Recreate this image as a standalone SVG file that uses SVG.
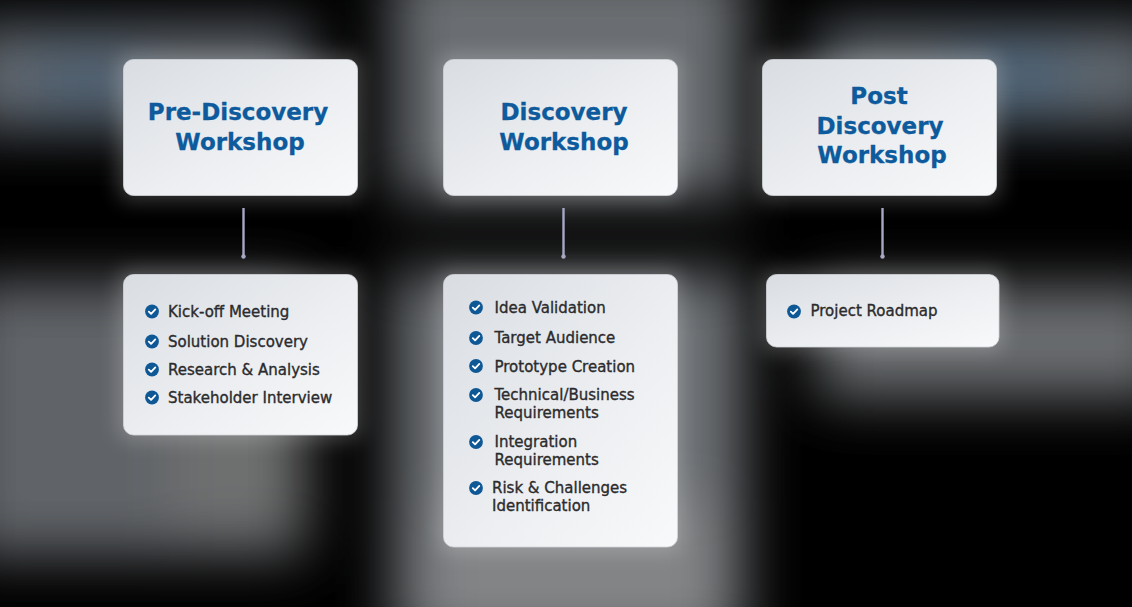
<svg xmlns="http://www.w3.org/2000/svg" width="1132" height="607" viewBox="0 0 1132 607">
  <defs>
    <filter id="blur" x="-30%" y="-30%" width="160%" height="160%">
      <feGaussianBlur stdDeviation="28"/>
    </filter>
    <filter id="glow" x="-20%" y="-20%" width="140%" height="140%">
      <feGaussianBlur stdDeviation="10"/>
    </filter>
    <linearGradient id="card" x1="0" y1="0" x2="1" y2="1">
      <stop offset="0" stop-color="#d9dde2"/>
      <stop offset="0.55" stop-color="#eceef1"/>
      <stop offset="1" stop-color="#f8f9fa"/>
    </linearGradient>
    <symbol id="check" viewBox="-7 -7 14 14" overflow="visible">
      <circle r="6.9" fill="#0f5896"/>
      <path d="M-3.2,0.1 L-0.9,2.4 L3.3,-2.1" fill="none" stroke="#ffffff" stroke-width="1.8" stroke-linecap="round" stroke-linejoin="round"/>
    </symbol>
  </defs>
  <style>
    .card { fill: url(#card); stroke: #d2d5d9; stroke-width: 0.8; }
    .title { font-family: "DejaVu Sans", "Liberation Sans", sans-serif; font-weight: bold; font-size: 23px; fill: #0d5a9c; text-anchor: middle; stroke: #0d5a9c; stroke-width: 0.3; }
    .item { font-family: "DejaVu Sans", "Liberation Sans", sans-serif; font-size: 15px; fill: #2b2b2d; stroke: #2b2b2d; stroke-width: 0.35; }
    .conn { stroke: #a7a8c4; stroke-width: 2.4; fill: none; }
    .dot { fill: #a7a8c4; }
  </style>

  <rect x="0" y="0" width="1132" height="607" fill="#000000"/>
  <g id="background" filter="url(#blur)">
    <rect x="-40" y="25" width="350" height="105" fill="#62686e"/>
    <rect x="30" y="55" width="110" height="55" fill="#4d6274"/>
    <rect x="-40" y="282" width="345" height="275" fill="#606468"/>
    <rect x="170" y="380" width="135" height="150" fill="#6e6f70"/>
    <rect x="393" y="-40" width="350" height="238" fill="#6a6e72"/>
    <rect x="393" y="272" width="350" height="380" fill="#6e7276"/>
    <rect x="430" y="500" width="290" height="140" fill="#838486"/>
    <rect x="817" y="25" width="355" height="100" fill="#60676e"/>
    <rect x="960" y="45" width="110" height="65" fill="#50667a"/>
    <rect x="817" y="286" width="355" height="112" fill="#6a6d70"/>
  </g>
  <g id="glows" filter="url(#glow)" opacity="0.22">
    <rect x="118" y="54" width="244" height="147" rx="12" fill="#ffffff"/>
    <rect x="438" y="54" width="244" height="147" rx="12" fill="#ffffff"/>
    <rect x="757" y="54" width="244" height="147" rx="12" fill="#ffffff"/>
    <rect x="118" y="269" width="244" height="171" rx="12" fill="#ffffff"/>
    <rect x="438" y="269" width="244" height="283" rx="12" fill="#ffffff"/>
    <rect x="761" y="269" width="243" height="83" rx="12" fill="#ffffff"/>
  </g>

  <g id="connectors">
    <line class="conn" x1="243.5" y1="208" x2="243.5" y2="256"/>
    <circle class="dot" cx="243.5" cy="256.5" r="2.2"/>
    <line class="conn" x1="563.5" y1="208" x2="563.5" y2="256"/>
    <circle class="dot" cx="563.5" cy="256.5" r="2.2"/>
    <line class="conn" x1="882.5" y1="208" x2="882.5" y2="256"/>
    <circle class="dot" cx="882.5" cy="256.5" r="2.2"/>
  </g>

  <g id="pre-discovery">
    <rect class="card" x="123.5" y="59.5" width="234" height="136" rx="10"/>
    <text class="title" x="238" y="120">Pre-Discovery</text>
    <text class="title" x="240" y="149.5">Workshop</text>
  </g>
  <g id="discovery">
    <rect class="card" x="443.5" y="59.5" width="234" height="136" rx="10"/>
    <text class="title" x="564" y="120">Discovery</text>
    <text class="title" x="564" y="149.5">Workshop</text>
  </g>
  <g id="post-discovery">
    <rect class="card" x="762.5" y="59.5" width="234" height="136" rx="10"/>
    <text class="title" x="879" y="104">Post</text>
    <text class="title" x="880" y="133.5">Discovery</text>
    <text class="title" x="882" y="162.5">Workshop</text>
  </g>

  <g id="pre-discovery-items">
    <rect class="card" x="123.5" y="274.5" width="234" height="160.5" rx="10"/>
    <use href="#check" x="145" y="304.5" width="14" height="14"/>
    <text class="item" x="168" y="316.5">Kick-off Meeting</text>
    <use href="#check" x="145" y="334.5" width="14" height="14"/>
    <text class="item" x="168" y="346.5">Solution Discovery</text>
    <use href="#check" x="145" y="362.5" width="14" height="14"/>
    <text class="item" x="168" y="374.5">Research &amp; Analysis</text>
    <use href="#check" x="145" y="390.5" width="14" height="14"/>
    <text class="item" x="168" y="402.5">Stakeholder Interview</text>
  </g>

  <g id="discovery-items">
    <rect class="card" x="443.5" y="274.5" width="234" height="272.5" rx="10"/>
    <use href="#check" x="469" y="300.5" width="14" height="14"/>
    <text class="item" x="494.5" y="312.5">Idea Validation</text>
    <use href="#check" x="469" y="331" width="14" height="14"/>
    <text class="item" x="494.5" y="343">Target Audience</text>
    <use href="#check" x="469" y="359" width="14" height="14"/>
    <text class="item" x="494.5" y="371.5">Prototype Creation</text>
    <use href="#check" x="469" y="388" width="14" height="14"/>
    <text class="item" x="494.5" y="399.5">Technical/Business</text>
    <text class="item" x="494.5" y="417.5">Requirements</text>
    <use href="#check" x="469" y="435" width="14" height="14"/>
    <text class="item" x="494.5" y="446.5">Integration</text>
    <text class="item" x="494.5" y="464.5">Requirements</text>
    <use href="#check" x="469" y="481" width="14" height="14"/>
    <text class="item" x="492" y="493">Risk &amp; Challenges</text>
    <text class="item" x="492" y="511">Identification</text>
  </g>

  <g id="post-discovery-items">
    <rect class="card" x="766.5" y="274.5" width="232.5" height="72.5" rx="10"/>
    <use href="#check" x="787" y="304.5" width="14" height="14"/>
    <text class="item" x="810.5" y="316">Project Roadmap</text>
  </g>
</svg>
